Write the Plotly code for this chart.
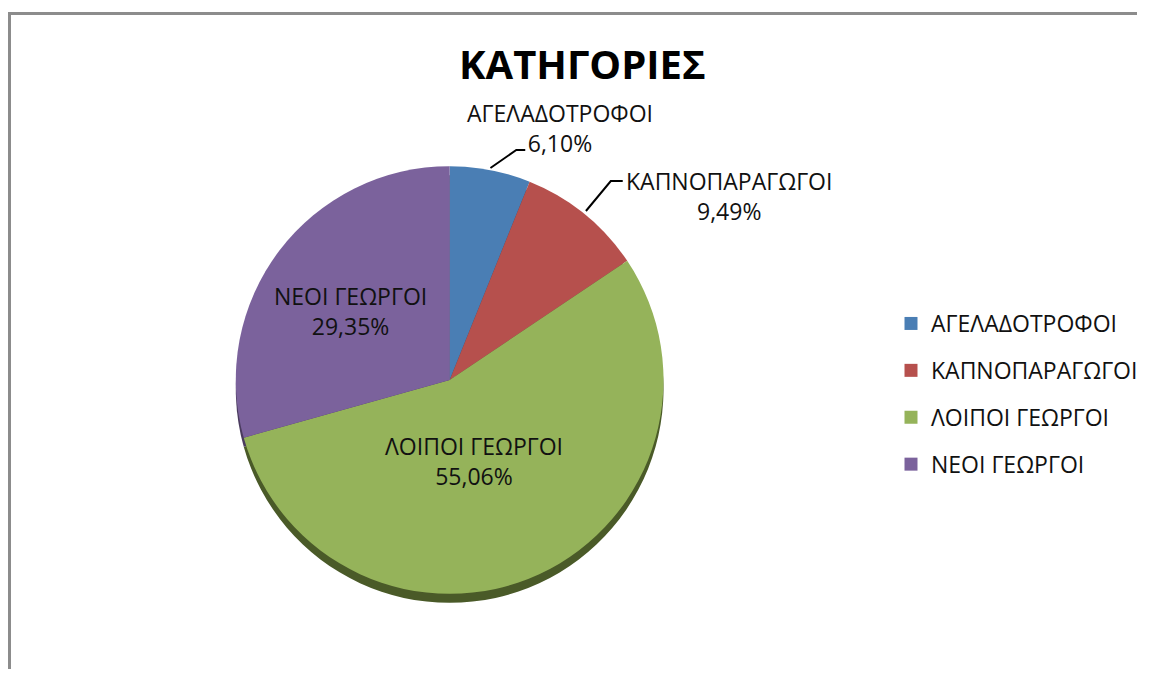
import plotly.graph_objects as go

# browser view is 1151x677 with an 8px body margin around the figure
VIEW_W, VIEW_H, OFF = 1151, 677, 8
W, H = VIEW_W - 2 * OFF, VIEW_H - 2 * OFF

categories = ["ΑΓΕΛΑΔΟΤΡΟΦΟΙ", "ΚΑΠΝΟΠΑΡΑΓΩΓΟΙ", "ΛΟΙΠΟΙ ΓΕΩΡΓΟΙ", "ΝΕΟΙ ΓΕΩΡΓΟΙ"]
values = [6.10, 9.49, 55.06, 29.35]
colors = ["#4A7EB4", "#B6504D", "#95B35A", "#7B629C"]
shadow_colors = ["#2C4B6C", "#6D302E", "#4A5A28", "#4A3B5E"]
title_text = "ΚΑΤΗΓΟΡΙΕΣ"

FONT = "Open Sans, Noto Sans, DejaVu Sans, sans-serif"


def px(x):
    return (x - OFF) / W


def py(y):
    return 1 - (y - OFF) / H


def pct(v):
    return f"{v:.2f}".replace(".", ",") + "%"


# pie geometry (screen pixels)
cx, cy, r = 452, 380, 215
shadow_dy = 9

fig = go.Figure()

# 3D-ish shadow underneath
fig.add_trace(go.Pie(
    labels=categories, values=values, sort=False, direction="clockwise", rotation=0,
    marker=dict(colors=shadow_colors, line=dict(width=0)),
    textinfo="none", hoverinfo="skip", showlegend=False,
    domain=dict(x=[px(cx - r), px(cx + r)], y=[py(cy + r + shadow_dy), py(cy - r + shadow_dy)]),
))

fig.add_trace(go.Pie(
    labels=categories, values=values, sort=False, direction="clockwise", rotation=0,
    marker=dict(colors=colors, line=dict(width=0)),
    textinfo="none", showlegend=False,
    domain=dict(x=[px(cx - r), px(cx + r)], y=[py(cy + r), py(cy - r)]),
))

# legend entries (dummy traces so spacing can match)
for name, col in zip(categories, colors):
    fig.add_trace(go.Scatter(
        x=[None], y=[None], mode="markers", name=name, legendgroup=name,
        marker=dict(symbol="square", size=13, color=col),
    ))

# data labels
label_pos = [(563, 128), (733, 196), (476, 461), (352, 311)]
annotations = []
for name, v, (lx, ly) in zip(categories, values, label_pos):
    annotations.append(dict(
        x=px(lx), y=py(ly), xref="paper", yref="paper",
        text=f"{name}<br>{pct(v)}", showarrow=False,
        font=dict(family=FONT, size=23, color="#111111"),
        xanchor="center", yanchor="middle", align="center",
    ))

annotations.append(dict(
    x=px(586), y=py(64), xref="paper", yref="paper", text=f"<b>{title_text}</b>",
    showarrow=False, font=dict(family=FONT, size=40, color="#000000"),
    xanchor="center", yanchor="middle",
))

shapes = [
    # outer chart frame (only the left and top edges are inside the view)
    dict(type="path", xref="paper", yref="paper",
         path=f"M {px(9.5)},0 L {px(9.5)},{py(13.5)} L 1,{py(13.5)}",
         line=dict(color="#8C8C8C", width=3), layer="below"),
    # leader lines
    dict(type="path", xref="paper", yref="paper",
         path=f"M {px(493)},{py(168)} L {px(519)},{py(150)} L {px(528)},{py(150)}",
         line=dict(color="#000000", width=2)),
    dict(type="path", xref="paper", yref="paper",
         path=f"M {px(589)},{py(211)} L {px(614)},{py(181)} L {px(626)},{py(181)}",
         line=dict(color="#000000", width=2)),
]

fig.update_layout(
    width=W, height=H,
    margin=dict(l=0, r=0, t=0, b=0),
    paper_bgcolor="white", plot_bgcolor="white",
    xaxis=dict(visible=False), yaxis=dict(visible=False),
    annotations=annotations, shapes=shapes,
    showlegend=True,
    legend=dict(
        x=px(896), y=py(302), xanchor="left", yanchor="top",
        font=dict(family=FONT, size=23, color="#111111"),
        tracegroupgap=14, bgcolor="rgba(0,0,0,0)", itemwidth=30,
    ),
)

fig.write_html("out.html")
